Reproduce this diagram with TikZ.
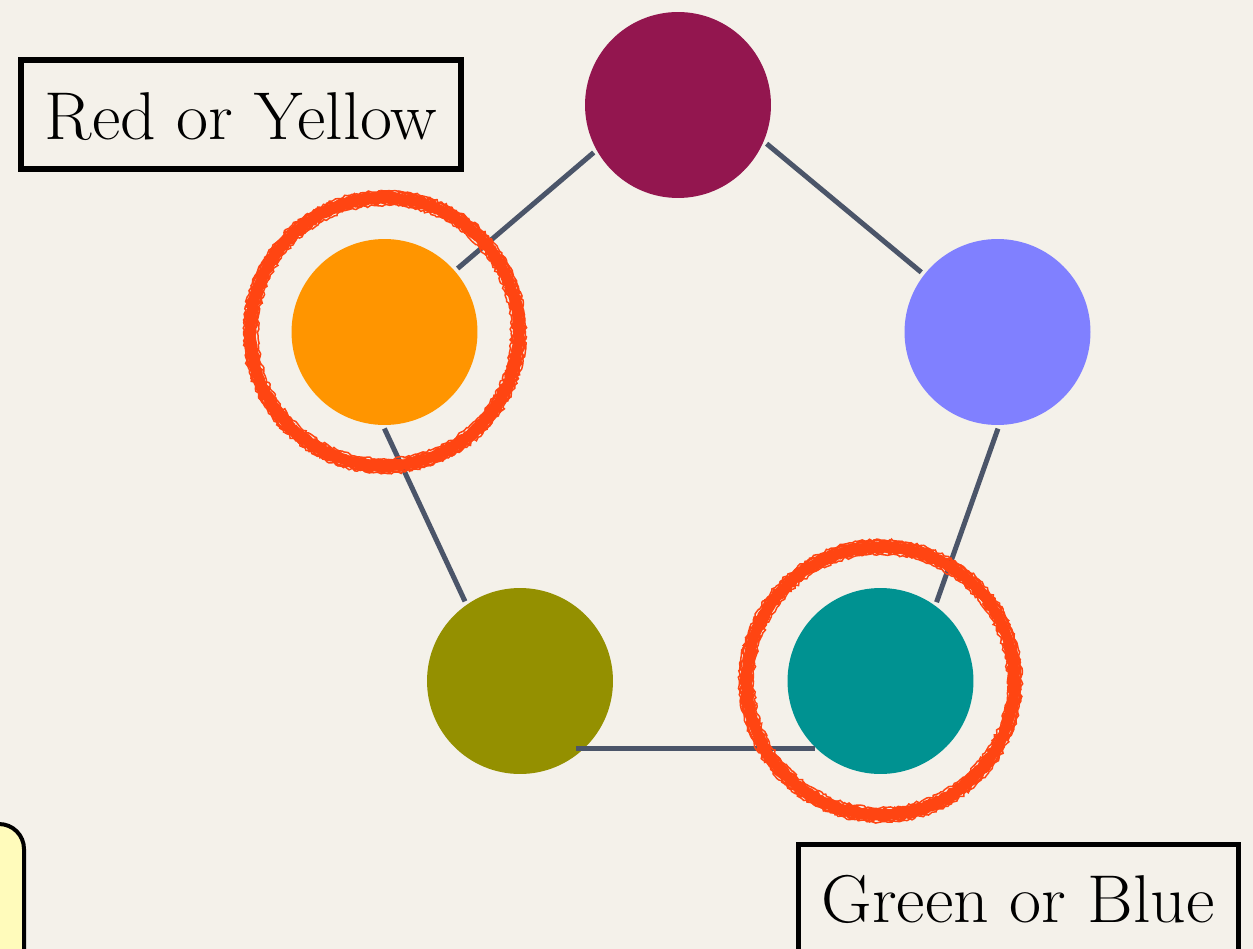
\documentclass[tikz,border=0pt]{standalone}
\usetikzlibrary{decorations.pathmorphing}
\definecolor{bg}{HTML}{F4F1EA}
\definecolor{cTop}{HTML}{93164F}
\definecolor{cOra}{HTML}{FF9500}
\definecolor{cBlu}{HTML}{8080FF}
\definecolor{cOli}{HTML}{949000}
\definecolor{cTea}{HTML}{009291}
\definecolor{cRing}{HTML}{FF4512}
\definecolor{cEdge}{HTML}{4B5569}
\definecolor{cYel}{HTML}{FFFBBB}
\tikzset{
  dot/.style={circle, minimum size=3.72cm, inner sep=0pt, draw=none},
  edge/.style={draw=cEdge, line width=0.1cm, shorten <=2pt, shorten >=2pt},
  ringbase/.style={draw=cRing, line width=0.2cm},
  ringrough/.style={draw=cRing, line width=0.05cm, decorate,
     decoration={random steps, segment length=1.5pt, amplitude=0.8pt}},
  labbox/.style={draw=black, line width=0.11cm, inner sep=0pt},
  labtext/.style={font=\fontsize{38.5}{46}\selectfont, inner sep=0pt, xscale=1.03}
}
\begin{document}
\begin{tikzpicture}[x=0.02cm,y=0.02cm]
\useasboundingbox (0,0) rectangle (1253,-949);
\fill[bg] (0,0) rectangle (1253,-949);
\begin{scope}
\clip (0,0) rectangle (1253,-949);
\draw[draw=black, line width=0.08cm, fill=cYel, rounded corners=0.5cm] (-80,-824) rectangle (24,-1010);
% circles
\node[dot, fill=cTop] (t) at (678,-105) {};
\node[dot, fill=cOra] (o) at (384.5,-332) {};
\node[dot, fill=cBlu] (b) at (997.5,-332) {};
\node[dot, fill=cOli] (l) at (520,-681) {};
\node[dot, fill=cTea] (g) at (880.5,-681) {};
% edges
\draw[edge] (t.209.7) -- (o.41.6);
\draw[edge] (t.-23.6) -- (b.142.1);
\draw[edge] (o.-91.8) -- (l.125.6);
\draw[edge] (b.-89.4) -- (g.54.1);
\draw[draw=cEdge, line width=0.1cm, shorten <=-5pt, shorten >=-1pt] (l.-46.5) -- (l.-46.5 -| g.-136);
% rings
\foreach \n in {o,g}{
  \draw[ringbase] (\n.center) circle[radius=2.68cm];
  \draw[ringrough] (\n.center) circle[radius=2.79cm];
  \draw[ringrough] (\n.center) circle[radius=2.74cm];
  \draw[ringrough] (\n.center) circle[radius=2.58cm];
  \draw[ringrough] (\n.center) circle[radius=2.62cm];
  \draw[ringrough, line width=0.03cm] (\n.center) circle[radius=2.82cm];
  \draw[ringrough, line width=0.03cm] (\n.center) circle[radius=2.54cm];
}
% label boxes
\node[labbox, minimum width=8.8cm, minimum height=2.18cm] (ry) at (241,-114.5) {};
\node[labtext, anchor=base] (ryt) at (241,-140) {Red or Yellow};
\node[labbox, minimum width=8.8cm, minimum height=3cm, anchor=north] (gb) at (1018.5,-841.5) {};
\node[labtext, anchor=base] (gbt) at (1018,-922) {Green or Blue};
\end{scope}
\end{tikzpicture}
\end{document}
